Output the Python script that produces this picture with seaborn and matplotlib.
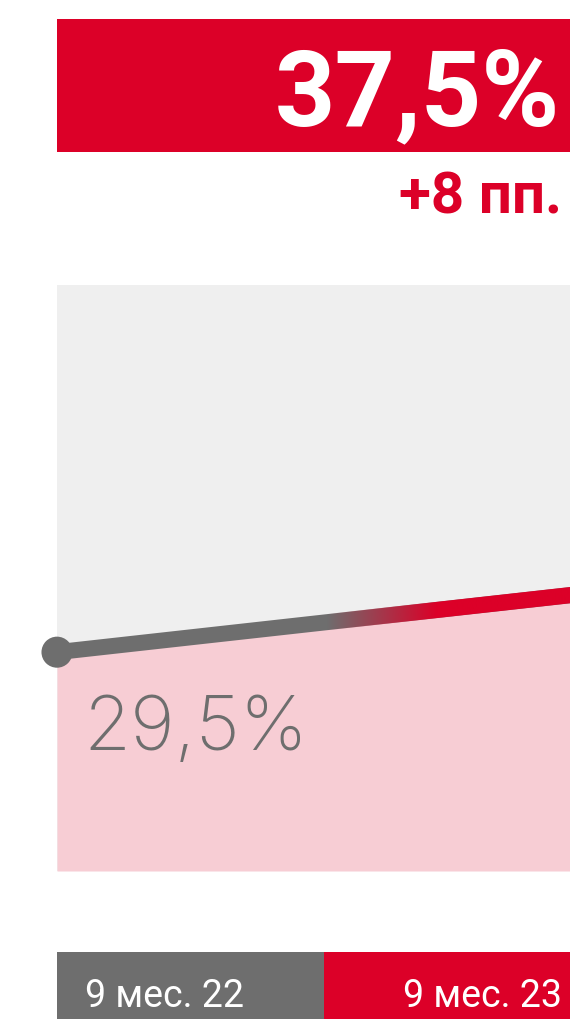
import numpy as np
import matplotlib.pyplot as plt
import seaborn as sns
from matplotlib.patches import Polygon

periods = ["9 мес. 22", "9 мес. 23"]
values = [29.5, 37.5]
headline = "37,5%"
delta = "+8 пп."
start_label = "29,5%"

RED = "#DC0028"
GRAY = "#6E6E6E"
LIGHT = "#EFEFEF"
PINK = "#F7CDD4"

sns.set_theme(style="white")
plt.rcParams["font.family"] = ["Roboto", "DejaVu Sans"]

W, H = 570, 1020
fig = plt.figure(figsize=(W / 100, H / 100), dpi=100)


def box(left, top, width, height):
    return [left / W, (H - top - height) / H, width / W, height / H]


# header box with the current value
hax = fig.add_axes(box(57, 20, 534, 133))
hax.set_facecolor(RED)
hax.set_xticks([])
hax.set_yticks([])
sns.despine(ax=hax, left=True, bottom=True)
fig.text(560 / W, 1 - 125 / H, headline, ha="right", va="baseline",
         color="white", fontsize=76, fontweight="bold")
fig.text(562 / W, 1 - 213 / H, delta, ha="right", va="baseline",
         color=RED, fontsize=42, fontweight="bold")

# main panel
ax = fig.add_axes(box(57, 286, 534, 586))
ax.set_facecolor(LIGHT)
xpos = np.arange(len(values))
ax.fill_between(xpos, values, 0, color=PINK, lw=0, zorder=1)
sns.lineplot(x=xpos, y=values, color=GRAY, linewidth=11.5, ax=ax,
             zorder=3, solid_capstyle="butt")

# grey -> red gradient along the line
ramp = np.clip((np.linspace(0, 1, 400) - 0.505) / 0.205, 0, 1)
rgba = np.zeros((1, 400, 4))
rgba[..., 0], rgba[..., 1], rgba[..., 2] = 0xDC / 255, 0, 0x28 / 255
rgba[..., 3] = ramp
half = 1.1
band = Polygon([(xpos[0], values[0] - half), (xpos[1], values[1] - half),
                (xpos[1], values[1] + half), (xpos[0], values[0] + half)],
               closed=True, transform=ax.transData, fill=False, lw=0)
ax.add_patch(band)
img = ax.imshow(rgba, extent=[0, 1, 0, 79], aspect="auto", zorder=4,
                interpolation="bilinear")
img.set_clip_path(band)

sns.scatterplot(x=[xpos[0]], y=[values[0]], s=500, color=GRAY,
                edgecolor="none", ax=ax, zorder=5, clip_on=False)

ax.set_xlim(0, 1)
ax.set_ylim(0, 79)
ax.set_xticks([])
ax.set_yticks([])
ax.set_xlabel("")
ax.set_ylabel("")
sns.despine(ax=ax, left=True, bottom=True)
fig.text(83 / W, 1 - 750 / H, start_label, ha="left", va="baseline",
         color=GRAY, fontsize=55, fontweight="light",
         family=["Inter", "Roboto", "DejaVu Sans"])

# period bar
bax = fig.add_axes(box(57, 953, 534, 67))
sns.barplot(x=periods, y=[1, 1], hue=periods, palette=[GRAY, RED],
            width=1, saturation=1, legend=False, linewidth=0,
            edgecolor="none", ax=bax)
bax.set_xlim(-0.5, 1.5)
bax.set_ylim(0, 1)
bax.set_xticks([])
bax.set_yticks([])
bax.set_xlabel("")
bax.set_ylabel("")
sns.despine(ax=bax, left=True, bottom=True)
fig.text(85 / W, 1 - 1007 / H, periods[0], ha="left", va="baseline",
         color="white", fontsize=27)
fig.text(562 / W, 1 - 1007 / H, periods[1], ha="right", va="baseline",
         color="white", fontsize=27)

fig.savefig("out.png", dpi=100, facecolor="white")
